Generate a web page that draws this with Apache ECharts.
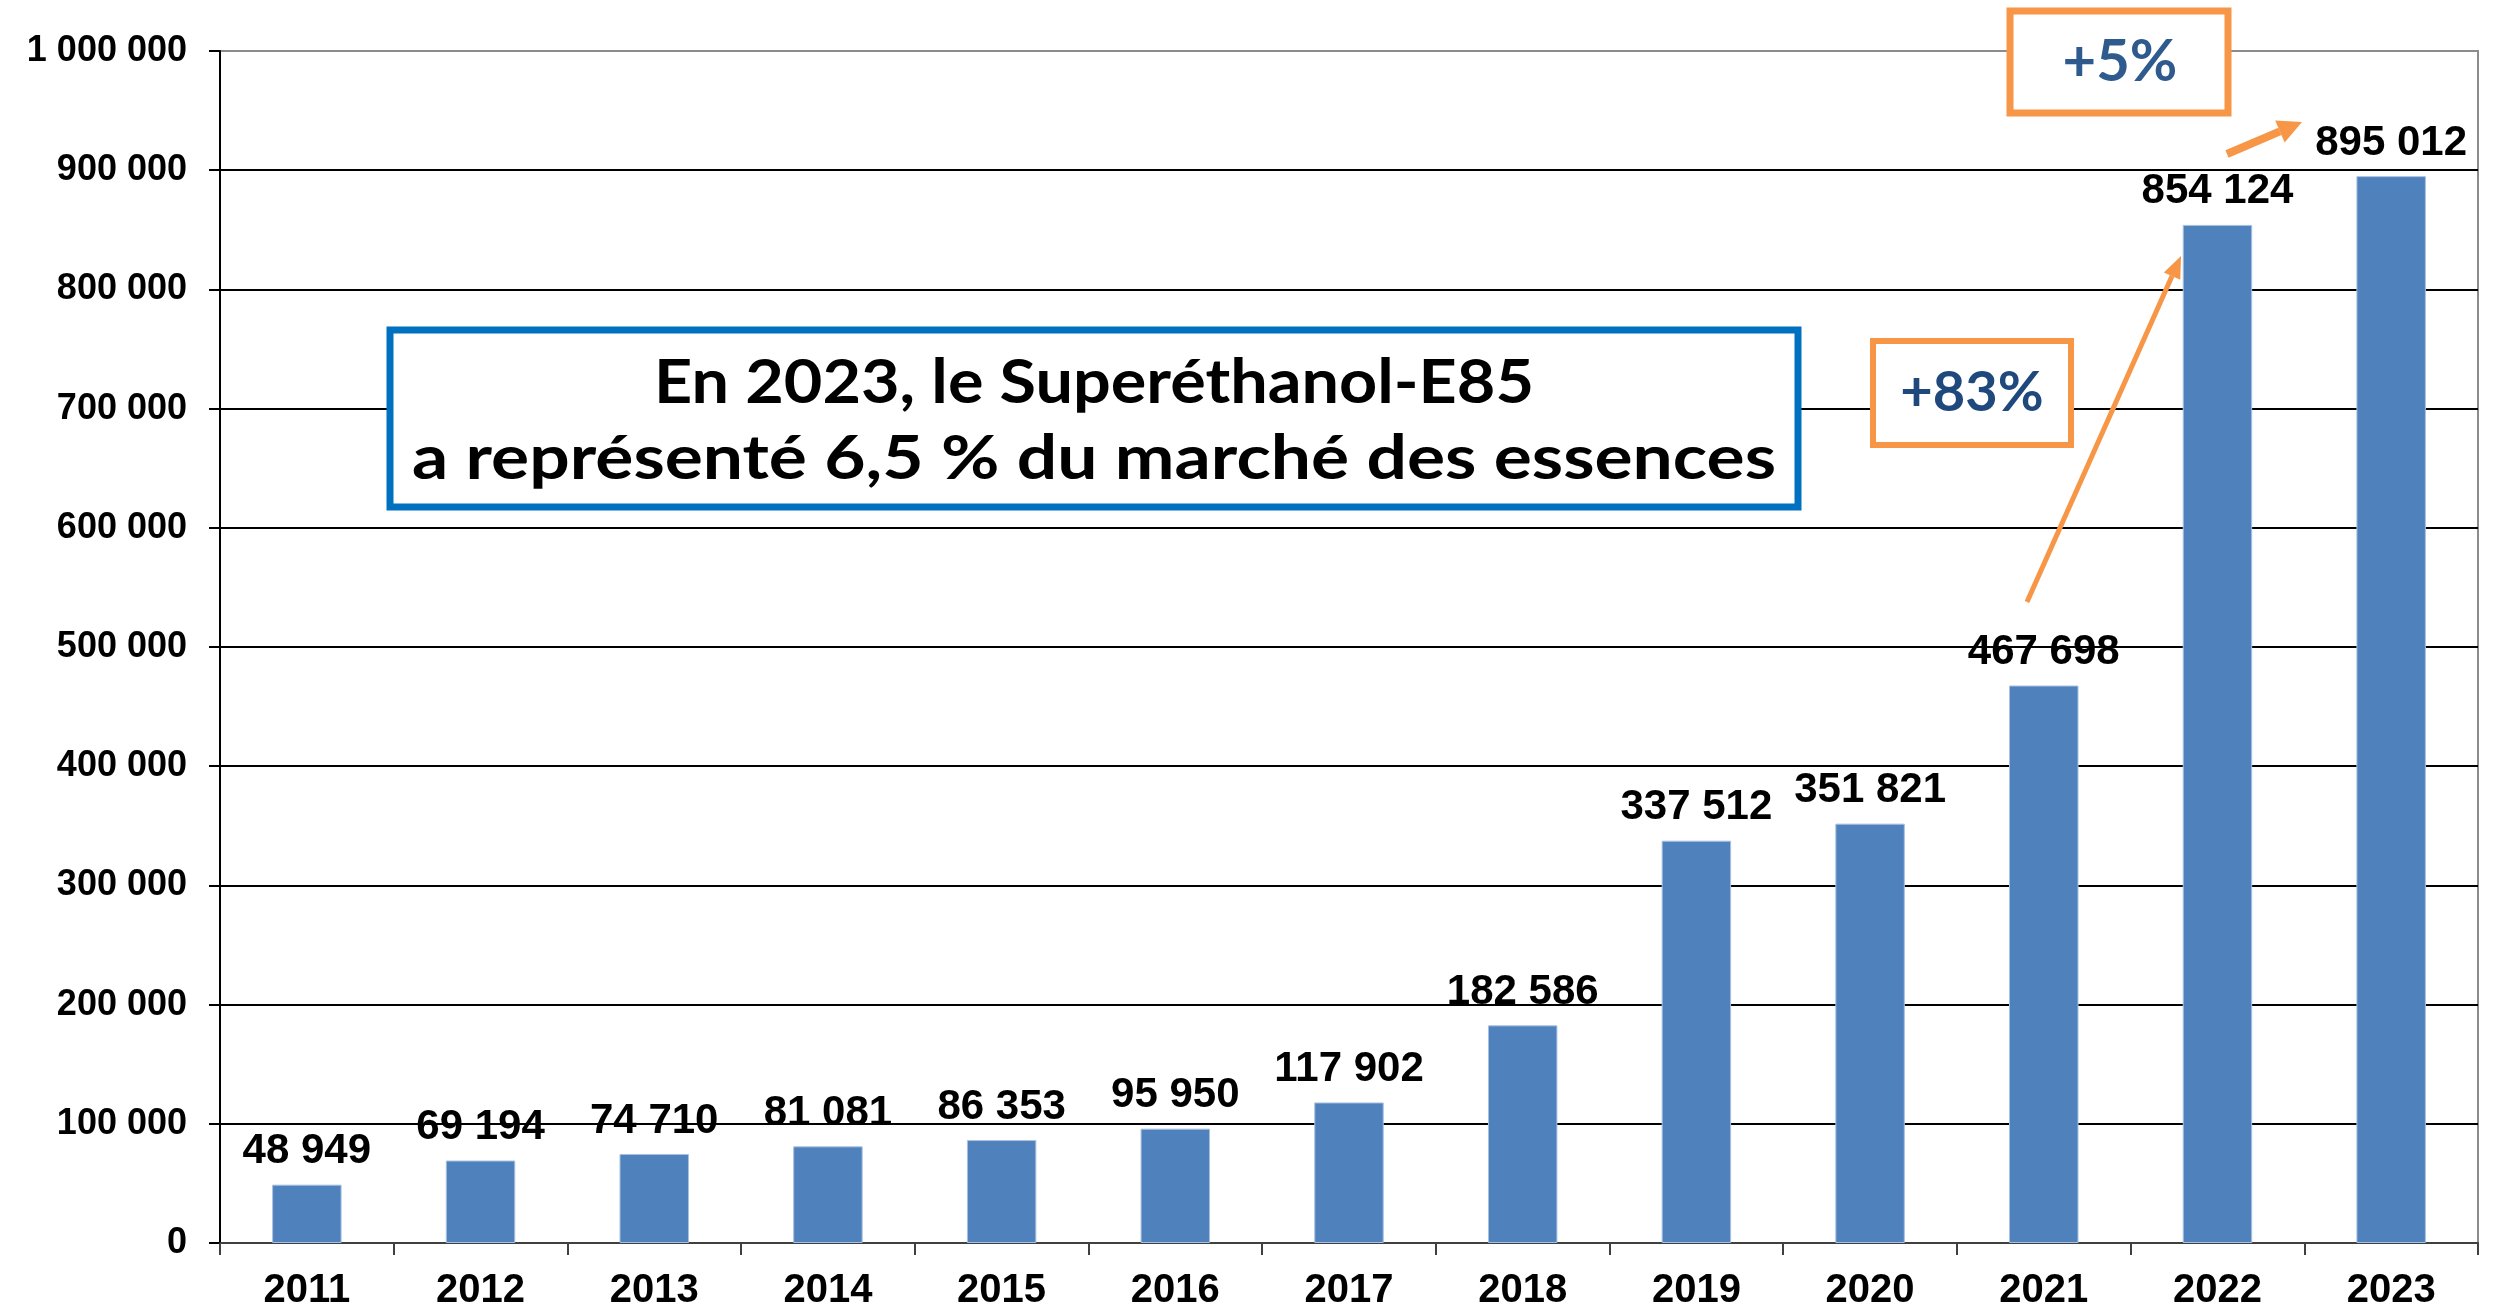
<!DOCTYPE html>
<html>
<head>
<meta charset="utf-8">
<script src="https://cdn.jsdelivr.net/npm/echarts@6/dist/echarts.min.js"></script>
<style>
  html, body { margin: 0; padding: 0; background: #fff; }
  #chart { width: 2498px; height: 1314px; }
</style>
</head>
<body>
<div id="chart"></div>
<script>
// data
const years = ['2011', '2012', '2013', '2014', '2015', '2016', '2017', '2018', '2019', '2020', '2021', '2022', '2023']
const volumes = [48949, 69194, 74710, 81081, 86353, 95950, 117902, 182586, 337512, 351821, 467698, 854124, 895012]
const yTicks = { min: 0, max: 1000000, interval: 100000 }
const boxLines = ['En 2023, le Superéthanol-E85', 'a représenté 6,5 % du marché des essences']
const growthLabels = ['+83%', '+5%']

const orange = '#F79646'
const spaced = v => String(v).replace(/\B(?=(\d{3})+(?!\d))/g, ' ')

// grid lines: black, except top border which is gray
const splitColors = []
for (let v = yTicks.min; v <= yTicks.max; v += yTicks.interval) {
    splitColors.push(v === yTicks.max ? '#8c8c8c' : '#000')
}

// the original box uses a wide geometric face, stretch Lato to the same width
const boxFont = 'bold 62px Lato'
const ctx = document.createElement('canvas').getContext('2d')
ctx.font = boxFont
const stretch = (text, target) => target / ctx.measureText(text).width

const arrow = function (x1, y1, x2, y2, w, headLen, headW) {
    const a = Math.atan2(y2 - y1, x2 - x1)
    const bx = x2 - Math.cos(a) * headLen
    const by = y2 - Math.sin(a) * headLen
    const nx = -Math.sin(a) * headW / 2
    const ny = Math.cos(a) * headW / 2
    return [
        { type: 'line', z: 50, shape: { x1, y1, x2: bx, y2: by }, style: { stroke: orange, lineWidth: w } },
        { type: 'polygon', z: 50, shape: { points: [[x2, y2], [bx + nx, by + ny], [bx - nx, by - ny]] }, style: { fill: orange } }
    ]
}

const chart = echarts.init(document.getElementById('chart'))
const option = {
    animation: false,
    backgroundColor: '#fff',
    grid: {
        left: 220, right: 20, top: 51, bottom: 71,
        show: true, borderColor: '#8c8c8c', borderWidth: 2
    },
    xAxis: {
        type: 'category',
        data: years,
        axisLine: { lineStyle: { color: '#404040', width: 2 } },
        axisTick: { show: true, length: 12, lineStyle: { color: '#404040', width: 2 } },
        axisLabel: {
            margin: 28,
            color: '#000',
            fontFamily: 'Liberation Sans, Arial',
            fontWeight: 'bold',
            fontSize: 40
        }
    },
    yAxis: {
        type: 'value',
        min: yTicks.min,
        max: yTicks.max,
        interval: yTicks.interval,
        axisLine: { show: true, lineStyle: { color: '#000', width: 2 } },
        axisTick: { show: true, length: 11, lineStyle: { color: '#000', width: 2 } },
        axisLabel: {
            margin: 33,
            color: '#000',
            fontFamily: 'Liberation Sans, Arial',
            fontWeight: 'bold',
            fontSize: 36,
            formatter: spaced
        },
        splitLine: { show: true, lineStyle: { color: splitColors, width: 2 } }
    },
    series: [{
        type: 'bar',
        data: volumes,
        barWidth: '40%',
        itemStyle: { color: '#4F81BD', borderColor: '#A9C1E0', borderWidth: 1 },
        label: {
            show: true,
            position: 'top',
            distance: 12,
            color: '#000',
            fontFamily: 'Liberation Sans, Arial',
            fontWeight: 'bold',
            fontSize: 42,
            formatter: p => spaced(p.value)
        }
    }],
    graphic: [
        // message box
        { type: 'rect', z: 40, shape: { x: 390, y: 330, width: 1408, height: 177 },
          style: { fill: '#fff', stroke: '#0070C0', lineWidth: 7 } },
        { type: 'text', z: 41, x: 1094, y: 383, scaleX: stretch(boxLines[0], 880),
          style: { text: boxLines[0], fill: '#000', font: boxFont, align: 'center', verticalAlign: 'middle' } },
        { type: 'text', z: 41, x: 1094, y: 459, scaleX: stretch(boxLines[1], 1364),
          style: { text: boxLines[1], fill: '#000', font: boxFont, align: 'center', verticalAlign: 'middle' } },
        // +83% box
        { type: 'rect', z: 40, shape: { x: 1873, y: 341, width: 198, height: 104 },
          style: { fill: '#fff', stroke: orange, lineWidth: 6 } },
        { type: 'text', z: 41, x: 1972, y: 393,
          style: { text: growthLabels[0], fill: '#1F497D', font: 'bold 56px Lato', align: 'center', verticalAlign: 'middle' } },
        // +5% box
        { type: 'rect', z: 40, shape: { x: 2010, y: 11, width: 218, height: 102 },
          style: { fill: '#fff', stroke: orange, lineWidth: 7 } },
        { type: 'text', z: 41, x: 2120, y: 62,
          style: { text: growthLabels[1], fill: '#2F5A8E', font: 'bold 58px Lato', align: 'center', verticalAlign: 'middle' } },
        ...arrow(2027, 602, 2181, 256, 5, 22, 18),
        ...arrow(2227, 154, 2302, 122, 8, 24, 24)
    ]
}
chart.setOption(option)
</script>
</body>
</html>
